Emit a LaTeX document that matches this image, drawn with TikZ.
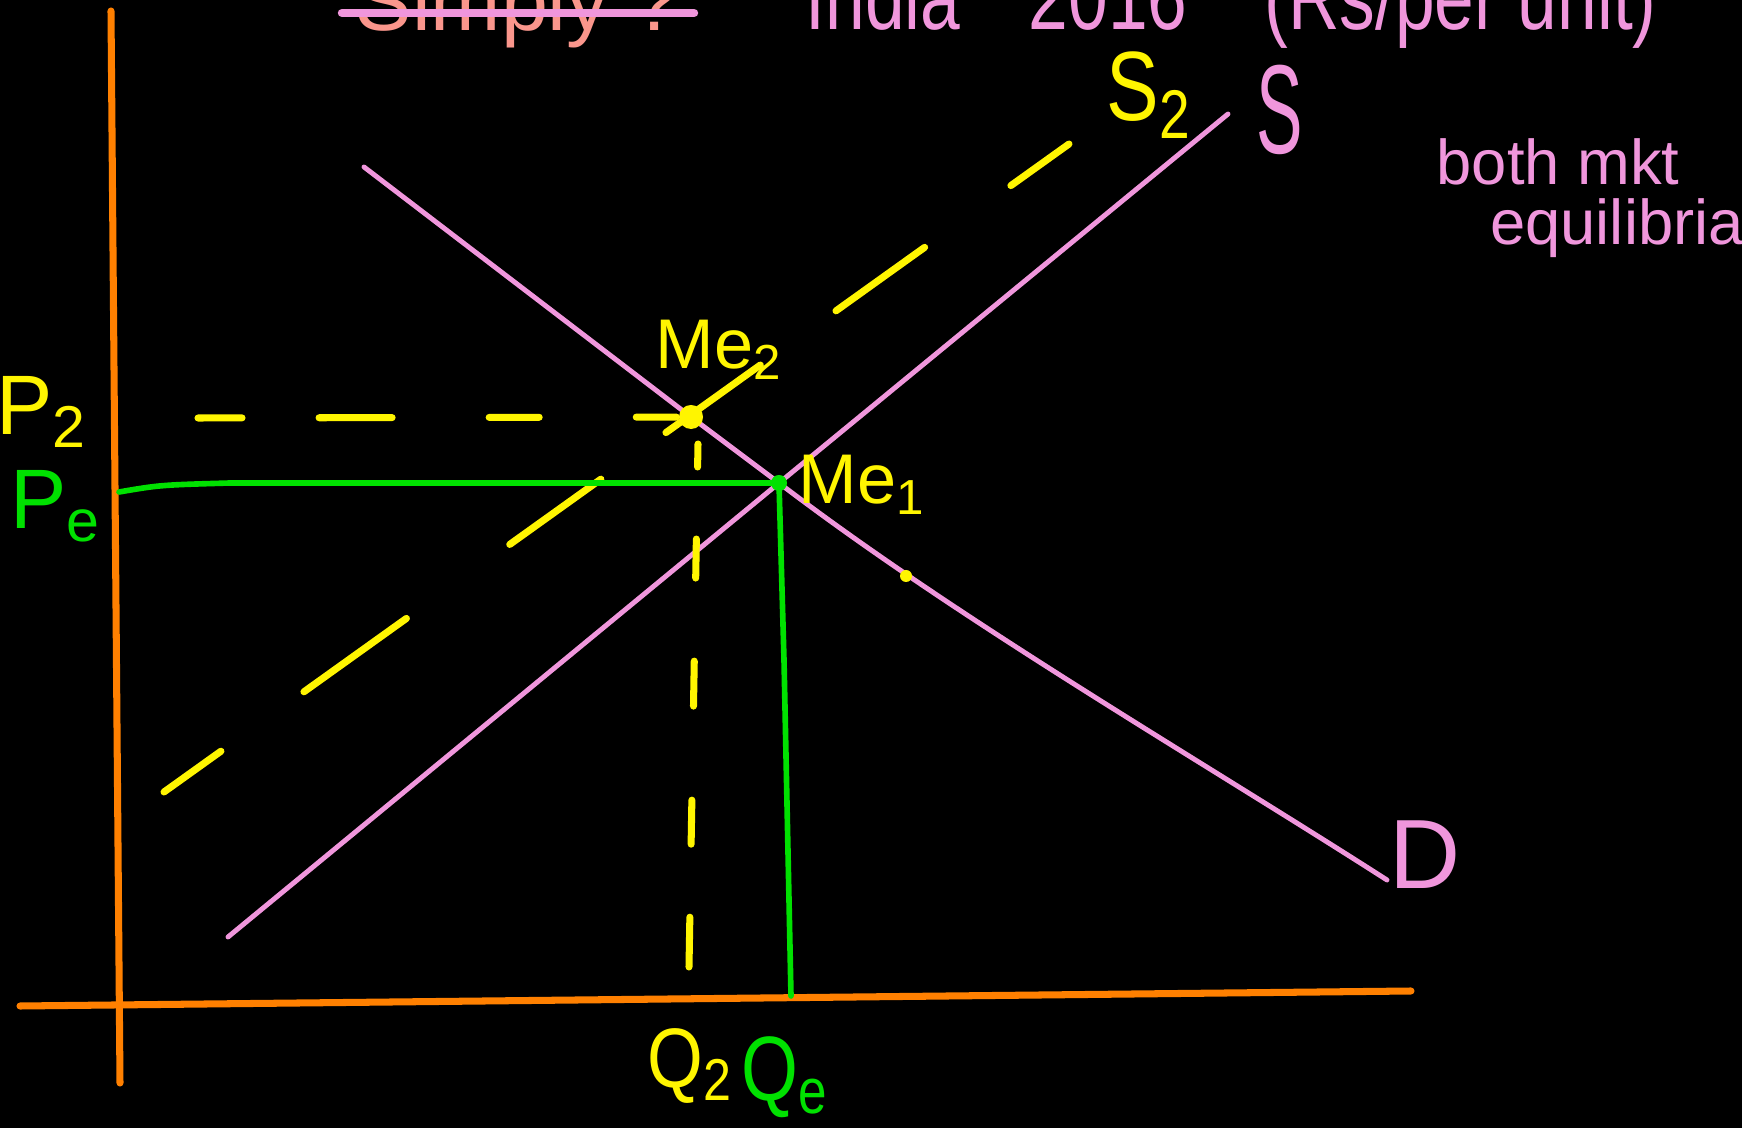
\documentclass[tikz,border=0pt]{standalone}
\usepackage{fontspec}
\setmainfont{Liberation Sans}
\usepackage{tikz}
\usetikzlibrary{positioning, calc}
\definecolor{axisorange}{RGB}{255,128,0}
\definecolor{curvepink}{RGB}{240,150,220}
\definecolor{shiftyellow}{RGB}{255,245,0}
\definecolor{eqgreen}{RGB}{0,225,0}
\definecolor{titlesalmon}{RGB}{250,150,140}

\begin{document}
\begin{tikzpicture}[
    x=0.01cm, y=-0.01cm,
    axisline/.style={axisorange, line width=2pt, line cap=round},
    curveline/.style={curvepink, line width=1.4pt, line cap=round},
    yelline/.style={shiftyellow, line width=2pt, line cap=round},
    greenline/.style={eqgreen, line width=1.6pt, line cap=round, line join=round},
    lbl/.style={inner sep=0pt, font=\fontsize{20}{24}\selectfont},
    note/.style={inner sep=0pt, font=\fontsize{18}{22}\selectfont, curvepink}
]
\fill[black] (0,0) rectangle (1742,1128);
\useasboundingbox (0,0) rectangle (1742,1128);
\clip (0,0) rectangle (1742,1128);

% points of the graph
\coordinate (ytop) at (111,11);
\coordinate (ybot) at (120,1083);
\coordinate (xl) at (20,1006);
\coordinate (xr) at (1411,991);
\coordinate (sbot) at (228,937);
\coordinate (stop) at (1228,114);
\coordinate (dtop) at (364,167);
\coordinate (dmid) at (906,576);
\coordinate (dbot) at (1387,880);
\coordinate (me1) at (779,483);
\coordinate (me2) at (691,417);
\coordinate (s2bot) at (164,792);
\coordinate (s2top) at (1069,144);
\coordinate (p2left) at (198,418);
\coordinate (q2top) at (698,444);
\coordinate (q2bot) at (689,967);
\coordinate (peleft) at (119,492);
\coordinate (pebend) at (230,483);
\coordinate (qemid) at (784,660);
\coordinate (qebot) at (791,996);
\coordinate (strikel) at (342,13);
\coordinate (striker) at (694,13);

% heading (cut off at the top)
\node[anchor=base west, inner sep=0pt, font=\fontsize{24}{28}\selectfont, titlesalmon] (simply) at (355,31) {Simply ?};
\draw[curveline, line width=2.4pt] (strikel) -- (striker);
\node[anchor=base west, inner sep=0pt, font=\fontsize{26}{30}\selectfont, curvepink] (india) at (805,30)
    {\scalebox{0.78}[1]{India\hspace{25pt}2016\hspace{28pt}(Rs/per unit)}};

% axes
\draw[axisline] (ytop) -- (ybot);
\draw[axisline] (xl) -- (xr);

% supply and demand
\draw[curveline] (sbot) -- (me1) -- (stop);
\draw[curveline] (dtop) -- (me2) -- (me1) .. controls (960,621) and (1200,760) .. (dbot);

% shifted supply S2
\draw[yelline, dash pattern=on 0.7cm off 1.02cm on 1.26cm off 1.27cm on 1.12cm off 0.8cm on 1.16cm off 0.93cm on 1.09cm off 1.06cm on 0.72cm off 1cm] (s2bot) -- (s2top);
\draw[yelline, dash pattern=on 0.44cm off 0.77cm on 0.73cm off 0.97cm on 0.5cm off 0.97cm on 0.4cm off 1cm] (p2left) -- (me2);
\draw[yelline, dash pattern=on 0.23cm off 0.72cm on 0.39cm off 0.83cm on 0.45cm off 0.94cm on 0.44cm off 0.73cm on 0.5cm off 1cm] (q2top) -- (q2bot);

% first equilibrium
\draw[greenline] (peleft) .. controls (160,485) .. (pebend) -- (me1) -- (qemid) -- (qebot);

\fill[eqgreen] (me1) circle (0.08cm);
\fill[shiftyellow] (me2) circle (0.12cm);
\fill[shiftyellow] (dmid) circle (0.06cm);

% labels
\node[lbl, shiftyellow, font=\fontsize{24}{28}\selectfont] (p2lab) at (42,412) {P\textsubscript{2}};
\node[lbl, eqgreen, font=\fontsize{24}{28}\selectfont] (pelab) at (56,506) {P\textsubscript{e}};
\node[lbl, shiftyellow] (me2lab) at (719,350) {Me\textsubscript{2}};
\node[lbl, shiftyellow] (me1lab) at (862,485) {Me\textsubscript{1}};
\node[lbl, shiftyellow, font=\fontsize{28}{32}\selectfont] (s2lab) at (1149,95) {\scalebox{0.8}[1]{S\textsubscript{2}}};
\node[lbl, curvepink, font=\fontsize{36}{40}\selectfont] (slab) at (1280,110) {\scalebox{0.55}[1]{S}};
\node[lbl, curvepink, font=\fontsize{28}{32}\selectfont] (dlab) at (1425,855) {D};
\node[lbl, shiftyellow, font=\fontsize{24}{28}\selectfont] (q2lab) at (690,1066) {\scalebox{0.85}[1]{Q\textsubscript{2}}};
\node[lbl, eqgreen, font=\fontsize{26}{30}\selectfont] (qelab) at (785,1077) {\scalebox{0.8}[1]{Q\textsubscript{e}}};
\node[note] (both) at (1558,162) {both mkt};
\node[note] (equil) at (1617,228) {equilibria};
\end{tikzpicture}
\end{document}
